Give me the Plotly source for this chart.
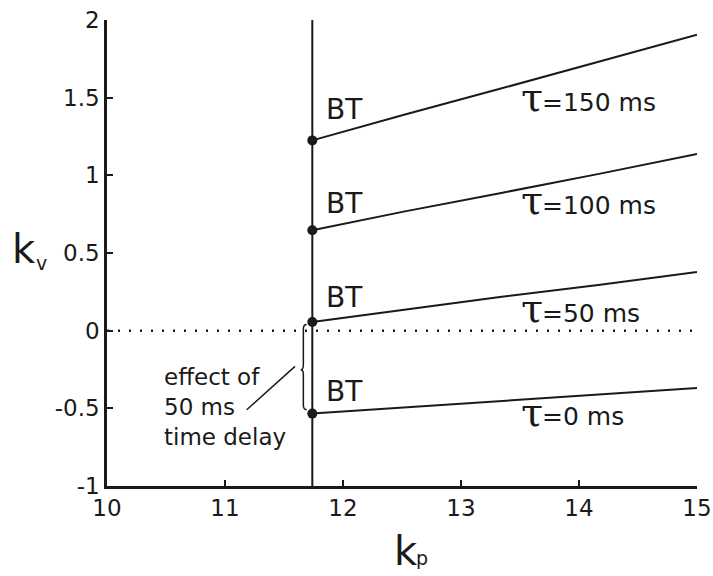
import plotly.graph_objects as go

# Bogdanov-Takens (BT) curves in the (k_p, k_v) gain plane for several delays
kp_grid = [11.74, 12.525, 13.33, 14.18, 15.0]
kv_tau150 = [1.225, 1.392, 1.557, 1.734, 1.906]
kv_tau100 = [0.646, 0.768, 0.885, 1.011, 1.138]
kv_tau50 = [0.056, 0.135, 0.217, 0.296, 0.378]
kv_tau0 = [-0.534, -0.494, -0.452, -0.412, -0.369]

kp_bt = 11.74
tau_ms = [150, 100, 50, 0]
bt_label_kv = [1.423, 0.818, 0.212, -0.393]
tau_label_baseline_kv = [1.365, 0.70, 0.005, -0.66]
tau_symbol_kp = 13.49
tau_value_kp = 13.673

x_ticks = [10, 11, 12, 13, 14, 15]
y_ticks = [-1, -0.5, 0, 0.5, 1, 1.5, 2]
y_ticktext = ["-1", "-0.5", "0", "0.5", "1", "1.5", "2"]

INK = "#1a1a1a"
FONT = "DejaVu Sans"

curves = [kv_tau150, kv_tau100, kv_tau50, kv_tau0]

fig = go.Figure()

# dotted reference line at k_v = 0
fig.add_trace(go.Scatter(
    x=[x_ticks[0], x_ticks[-1]], y=[0, 0], mode="lines",
    line=dict(color=INK, width=2.5, dash="2px,9px"),
    hoverinfo="skip", showlegend=False))

# vertical line through the BT points
fig.add_trace(go.Scatter(
    x=[kp_bt, kp_bt], y=[y_ticks[0], y_ticks[-1]], mode="lines",
    line=dict(color=INK, width=2), hoverinfo="skip", showlegend=False))

for kv in curves:
    fig.add_trace(go.Scatter(
        x=kp_grid, y=kv, mode="lines",
        line=dict(color=INK, width=2), showlegend=False))

# BT points
fig.add_trace(go.Scatter(
    x=[kp_bt] * len(curves), y=[c[0] for c in curves], mode="markers",
    marker=dict(color=INK, size=10), showlegend=False, cliponaxis=False))

annotations = []
for yb in bt_label_kv:
    annotations.append(dict(
        x=11.84, y=yb, text="BT", showarrow=False, xanchor="left",
        yanchor="middle", font=dict(family=FONT, size=28, color=INK)))

# delay labels: a large tau glyph followed by "=... ms", sharing a baseline
for t, yt in zip(tau_ms, tau_label_baseline_kv):
    annotations.append(dict(
        x=tau_symbol_kp, y=yt, xanchor="left", yanchor="bottom", yshift=-3.5,
        text="τ", showarrow=False,
        font=dict(family="DejaVu Serif", size=40, color=INK)))
    annotations.append(dict(
        x=tau_value_kp, y=yt, xanchor="left", yanchor="bottom",
        text=f"={t} ms", showarrow=False,
        font=dict(family=FONT, size=25, color=INK)))

annotations.append(dict(
    x=10.464, y=-0.489, xanchor="left", yanchor="middle", align="left",
    text="effect of<br>50 ms<br>time delay", showarrow=False,
    font=dict(family=FONT, size=23, color=INK)))

# axis titles: large "k" with a small subscript letter
annotations += [
    dict(xref="paper", yref="paper", x=0, y=0.5086, xshift=-83,
         xanchor="center", yanchor="middle", showarrow=False, text="k",
         font=dict(family=FONT, size=40, color=INK)),
    dict(xref="paper", yref="paper", x=0, y=0.4777, xshift=-66,
         xanchor="center", yanchor="middle", showarrow=False, text="v",
         font=dict(family=FONT, size=19, color=INK)),
    dict(xref="paper", yref="paper", x=0.5068, y=0, yshift=-65,
         xanchor="center", yanchor="middle", showarrow=False, text="k",
         font=dict(family=FONT, size=40, color=INK)),
    dict(xref="paper", yref="paper", x=0.5347, y=0, yshift=-72.4,
         xanchor="center", yanchor="middle", showarrow=False, text="p",
         font=dict(family=FONT, size=19, color=INK)),
]

# brace marking the shift between tau=0 and tau=50 ms
xs_end, xs_spine, xs_tip = 11.692, 11.664, 11.641
y_top, y_mid, y_bot, d = 0.039, -0.251, -0.509, 0.03
brace = (f"M {xs_end},{y_top} Q {xs_spine},{y_top} {xs_spine},{y_top - d} "
         f"L {xs_spine},{y_mid + d} Q {xs_spine},{y_mid} {xs_tip},{y_mid} "
         f"Q {xs_spine},{y_mid} {xs_spine},{y_mid - d} "
         f"L {xs_spine},{y_bot + d} Q {xs_spine},{y_bot} {xs_end},{y_bot}")

shapes = [
    dict(type="path", path=brace, xref="x", yref="y",
         line=dict(color=INK, width=1.5)),
    dict(type="line", xref="x", yref="y", x0=11.184, y0=-0.509,
         x1=11.593, y1=-0.230, line=dict(color=INK, width=1.5)),
]

axis_common = dict(
    showline=True, linecolor=INK, linewidth=2.5,
    ticks="inside", ticklen=6, tickwidth=2, tickcolor=INK,
    showgrid=False, zeroline=False, automargin=False,
    tickfont=dict(family=FONT, size=23, color=INK))

fig.update_layout(
    width=713, height=576,
    margin=dict(l=107, r=16, t=20, b=90),
    paper_bgcolor="white", plot_bgcolor="white",
    font=dict(family=FONT, size=23, color=INK),
    annotations=annotations, shapes=shapes,
    xaxis=dict(range=[10, 15], tickvals=x_ticks,
               ticktext=[str(v) for v in x_ticks], **axis_common),
    yaxis=dict(range=[-1, 2], tickvals=y_ticks, ticktext=y_ticktext,
               **axis_common),
)

fig.write_html("out.html")
